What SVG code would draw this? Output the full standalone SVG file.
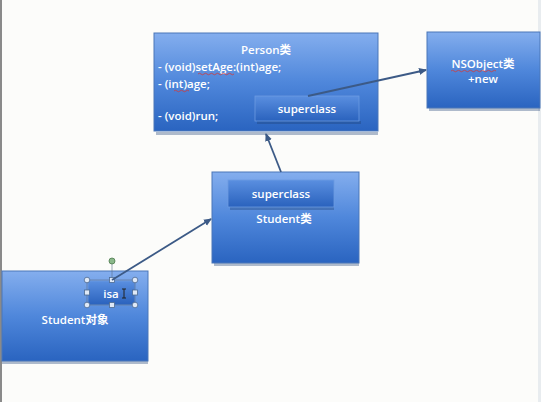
<svg xmlns="http://www.w3.org/2000/svg" width="541" height="402" viewBox="0 0 541 402">
<defs>
<linearGradient id="boxg" x1="0" y1="0" x2="0" y2="1">
<stop offset="0" stop-color="#84aeee"/>
<stop offset="0.5" stop-color="#4f87db"/>
<stop offset="1" stop-color="#2a64c0"/>
</linearGradient>
<linearGradient id="ing" x1="0" y1="0" x2="0" y2="1">
<stop offset="0" stop-color="#5a8fe0"/>
<stop offset="1" stop-color="#2a62bd"/>
</linearGradient>
<marker id="ah" markerWidth="8" markerHeight="8" refX="7" refY="4" orient="auto" markerUnits="userSpaceOnUse">
<path d="M0,0.5 L8,4 L0,7.5 Z" fill="#3c5a86"/>
</marker>
</defs>
<style>
.box{fill:url(#boxg);stroke:#4a76b8;stroke-width:1}
.inner{fill:url(#ing);stroke:#6d9be0;stroke-width:0.8}
.sh{fill:#1e3f73;opacity:0.35}
.t{font-family:"Open Sans","Liberation Sans","Noto Sans CJK SC",sans-serif;font-size:11.5px;font-weight:600;fill:#ffffff}
.c{text-anchor:middle}
.con{stroke:#3c5a86;stroke-width:1.8;fill:none;marker-end:url(#ah)}
.sq{stroke:#d23a3a;stroke-width:0.8;fill:none}
.hd{fill:#dfe9f7;stroke:#4c6a92;stroke-width:0.8}
</style>
<rect x="0" y="0" width="541" height="402" fill="#fcfcfa"/>
<rect x="0" y="0" width="2" height="402" fill="#8a8a8a"/>
<rect x="538" y="0" width="3" height="402" fill="#e8ecef"/>

<g id="person">
<rect class="sh" x="156" y="132" width="222" height="3"/>
<rect class="box" x="154" y="33" width="224" height="98"/>
<text class="t c" x="266" y="54">Person类</text>
<text class="t" x="158" y="71">- (void)setAge:(int)age;</text>
<text class="t" x="158" y="88">- (int)age;</text>
<text class="t" x="158" y="120">- (void)run;</text>
<path class="sq" d="M198,74 q1.5,-1.5 3,0 t3,0 t3,0 t3,0 t3,0 t3,0 t3,0 t3,0 t3,0 t3,0 t3,0 t3,0"/>
<path class="sq" d="M174,91 q1.5,-1.5 3,0 t3,0 t3,0 t3,0 t3,0"/>
<rect class="sh" x="257" y="121" width="104" height="3"/>
<rect class="inner" x="255" y="96" width="104" height="25"/>
<text class="t c" x="307" y="113">superclass</text>
</g>

<g id="nsobject">
<rect class="sh" x="429" y="108" width="111" height="3"/>
<rect class="box" x="427" y="32" width="113" height="76"/>
<text class="t c" x="483" y="68">NSObject类</text>
<text class="t c" x="483" y="83">+new</text>
<path class="sq" d="M451,71 q1.5,-1.5 3,0 t3,0 t3,0 t3,0 t3,0 t3,0 t3,0 t3,0 t3,0 t3,0 t3,0 t3,0 t3,0 t3,0 t3,0"/>
</g>

<g id="student-class">
<rect class="sh" x="214" y="263" width="145" height="3"/>
<rect class="box" x="212" y="172" width="147" height="91"/>
<rect class="sh" x="230" y="207" width="104" height="3"/>
<rect class="inner" x="228" y="180" width="106" height="27"/>
<text class="t c" x="281" y="198">superclass</text>
<text class="t c" x="284" y="223">Student类</text>
</g>

<g id="student-object">
<rect class="sh" x="2" y="361" width="146" height="3"/>
<rect class="box" x="2" y="271" width="146" height="90"/>
<rect class="inner" x="88" y="281" width="47" height="24"/>
<text class="t c" x="111" y="298">isa</text>
<text class="t c" x="75" y="324">Student对象</text>
<rect x="87" y="280" width="48" height="25" fill="none" stroke="#5a6f8c" stroke-width="0.6"/>
<line x1="112" y1="262" x2="112" y2="280" stroke="#5a6f8c" stroke-width="0.6"/>
<circle cx="112" cy="261" r="3" fill="#8ab88a" stroke="#4d7a4d" stroke-width="0.8"/>
<circle class="hd" cx="87" cy="280" r="2.8"/>
<circle class="hd" cx="135" cy="280" r="2.8"/>
<circle class="hd" cx="87" cy="305" r="2.8"/>
<circle class="hd" cx="135" cy="305" r="2.8"/>
<rect class="hd" x="109.5" y="277.5" width="5" height="5"/>
<rect class="hd" x="109.5" y="302.5" width="5" height="5"/>
<rect class="hd" x="84.5" y="290" width="5" height="5"/>
<rect class="hd" x="132.5" y="290" width="5" height="5"/>
<path d="M122,289 h4 M124,289 v9 M122,298 h4" stroke="#222" stroke-width="1" fill="none"/>
</g>

<g id="connectors">
<line class="con" x1="112" y1="280" x2="211" y2="219"/>
<line class="con" x1="281" y1="172" x2="266" y2="134"/>
<line class="con" x1="308" y1="96" x2="426" y2="70"/>
</g>
</svg>
